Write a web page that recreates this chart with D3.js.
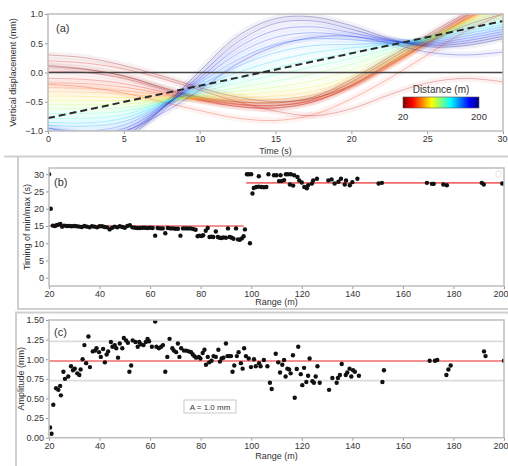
<!DOCTYPE html>
<html>
<head>
<meta charset="utf-8">
<script src="https://cdn.jsdelivr.net/npm/d3@7"></script>
<style>
  body { margin: 0; background: #fff; }
  text { font-family: "Liberation Sans", Arial, sans-serif; fill: #333; }
</style>
</head>
<body>
<svg id="fig" width="508" height="466"></svg>
<script>
// ---------- Panel (a): displacement time series, one trace per distance ----------
const timeSteps = [0, 2.5, 5, 7.5, 10, 12.5, 15, 17.5, 20, 22.5, 25, 27.5, 30];
const distances = [20, 22, 25, 30, 35, 40, 45, 50, 60, 70, 80, 90, 100, 110, 120, 130, 140, 150, 160, 170, 180, 185, 190, 200];
const displacement = [
  [ 0.12, 0.06,-0.06,-0.25,-0.42,-0.50,-0.52,-0.42,-0.12, 0.26, 0.64, 1.00, 1.28],
  [ 0.30, 0.25, 0.12,-0.06,-0.26,-0.42,-0.50,-0.44,-0.22, 0.14, 0.50, 0.80, 1.00],
  [ 0.10, 0.05,-0.06,-0.26,-0.44,-0.54,-0.57,-0.46,-0.16, 0.22, 0.60, 0.97, 1.26],
  [ 0.02, 0.00,-0.10,-0.28,-0.46,-0.58,-0.61,-0.50,-0.22, 0.16, 0.56, 0.95, 1.26],
  [ 0.20, 0.16, 0.06,-0.10,-0.30,-0.50,-0.66,-0.74,-0.62,-0.38,-0.18,-0.10,-0.16],
  [-0.10,-0.12,-0.19,-0.33,-0.48,-0.58,-0.60,-0.50,-0.24, 0.12, 0.52, 0.92, 1.24],
  [-0.20,-0.25,-0.35,-0.50,-0.65,-0.78,-0.82,-0.72,-0.45,-0.10, 0.30, 0.70, 1.00],
  [-0.18,-0.19,-0.25,-0.36,-0.47,-0.55,-0.56,-0.48,-0.25, 0.10, 0.50, 0.90, 1.22],
  [-0.26,-0.27,-0.31,-0.38,-0.46,-0.51,-0.51,-0.44,-0.22, 0.12, 0.50, 0.90, 1.20],
  [-0.33,-0.34,-0.37,-0.41,-0.45,-0.47,-0.46,-0.38,-0.18, 0.14, 0.50, 0.88, 1.18],
  [-0.40,-0.41,-0.43,-0.44,-0.44,-0.43,-0.40,-0.32,-0.12, 0.18, 0.52, 0.88, 1.14],
  [-0.48,-0.48,-0.48,-0.46,-0.42,-0.38,-0.33,-0.24,-0.06, 0.22, 0.54, 0.86, 1.10],
  [-0.55,-0.55,-0.54,-0.48,-0.40,-0.32,-0.25,-0.14, 0.04, 0.28, 0.56, 0.84, 1.04],
  [-0.62,-0.62,-0.60,-0.50,-0.38,-0.26,-0.15,-0.02, 0.14, 0.34, 0.58, 0.82, 0.98],
  [-0.70,-0.70,-0.66,-0.52,-0.34,-0.18,-0.04, 0.10, 0.24, 0.40, 0.58, 0.78, 0.92],
  [-0.78,-0.78,-0.72,-0.52,-0.30,-0.10, 0.08, 0.22, 0.34, 0.46, 0.58, 0.74, 0.86],
  [-0.85,-0.86,-0.78,-0.54,-0.26, 0.00, 0.20, 0.34, 0.42, 0.48, 0.56, 0.70, 0.82],
  [-0.90,-0.92,-0.84,-0.56,-0.22, 0.10, 0.34, 0.46, 0.48, 0.50, 0.54, 0.66, 0.78],
  [-0.95,-1.00,-0.90,-0.58,-0.18, 0.22, 0.48, 0.58, 0.56, 0.52, 0.52, 0.62, 0.74],
  [-1.00,-1.06,-0.96,-0.60,-0.14, 0.32, 0.60, 0.68, 0.62, 0.54, 0.50, 0.58, 0.70],
  [-1.05,-1.12,-1.02,-0.62,-0.10, 0.42, 0.72, 0.78, 0.68, 0.55, 0.48, 0.54, 0.66],
  [-0.95,-1.05,-1.00,-0.70,-0.30, 0.15, 0.45, 0.60, 0.62, 0.50, 0.35, 0.30, 0.35],
  [-1.10,-1.18,-1.08,-0.62,-0.05, 0.52, 0.84, 0.88, 0.74, 0.56, 0.46, 0.50, 0.62],
  [-1.15,-1.25,-1.15,-0.62, 0.02, 0.62, 0.92, 0.95, 0.80, 0.58, 0.44, 0.46, 0.58]
];
const trendEnds = [[0, -0.78], [30, 0.88]];
const timeTicks = [0, 5, 10, 15, 20, 25, 30];
const dispTicks = [-1.0, -0.5, 0.0, 0.5, 1.0];

// ---------- Panel (b): timing of min/max vs range ----------
const timingRange = [20, 20.7, 21.5, 22.3, 23, 23.8, 24.5, 25.2, 26, 27, 28, 29, 30, 31, 32, 33, 34, 35, 36, 37, 38, 39, 40, 41, 42, 43, 44, 45, 46, 47, 48, 49, 50, 51, 52, 53, 54, 55, 56, 57, 58, 59, 60, 61, 62, 63, 64, 65, 66, 67, 68, 69, 70, 71, 72, 73, 74, 75, 76, 77, 78, 78.8, 79.5, 80.3, 81, 82, 82.8, 83.5, 84.3, 85, 86, 86.8, 87.5, 88.3, 89, 90, 90.8, 91.5, 92.3, 93, 94, 94.8, 95.5, 96.3, 97, 97.5, 98.3, 99, 99.5, 100, 100.5, 101, 102, 103, 103, 104, 105, 106, 106.8, 109, 110, 111, 111.6, 112, 113, 113.7, 114.5, 115.3, 115.7, 116.6, 117, 118.3, 119, 120, 121, 122, 122.5, 124, 124.5, 126, 130.5, 131.8, 133, 134.5, 135.5, 137, 137.5, 139, 140, 142, 150.4, 151.7, 169.5, 171.5, 172.2, 176, 177.4, 191.2, 192, 199.3];
const timingValue = [30, 20, 15.1, 15.0, 15.2, 15.4, 15.6, 14.8, 15.1, 15.0, 15.0, 14.9, 15.0, 14.9, 14.8, 14.7, 15.0, 14.8, 14.6, 14.9, 14.8, 14.6, 14.9, 14.9, 14.7, 14.6, 14.0, 14.5, 14.8, 14.6, 14.9, 14.7, 14.5, 15.0, 15.2, 14.6, 14.5, 14.4, 14.4, 14.5, 14.5, 14.4, 14.5, 14.4, 12.2, 14.4, 14.3, 14.3, 12.9, 14.4, 14.3, 14.3, 14.2, 14.2, 12.2, 14.3, 14.3, 14.3, 14.3, 14.1, 13.9, 12.0, 12.2, 12.1, 12.3, 13.6, 14.4, 11.8, 11.9, 11.8, 13.4, 11.8, 11.6, 11.5, 11.7, 11.6, 14.3, 11.8, 11.6, 11.3, 14.3, 11.1, 11.0, 11.4, 12.0, 14.0, 30, 30, 10.0, 30, 24.4, 26.0, 26.3, 29.4, 26.4, 26.3, 26.2, 26.3, 30, 29.7, 29.7, 28.0, 29.7, 28.0, 28.3, 30, 30, 27.0, 30, 26.7, 29.7, 29.2, 28.2, 27.6, 26.3, 25.9, 26.8, 27.3, 28.2, 28.7, 28.2, 28.5, 27.3, 27.8, 28.7, 27.0, 28.2, 26.8, 27.7, 28.7, 27.3, 27.5, 27.5, 27.2, 27.2, 27.0, 26.8, 27.5, 27.0, 27.3];
const timingFits = [
  { from: 20, to: 97, level: 15.0 },
  { from: 98, to: 200, level: 27.5 }
];
const rangeTicks = [20, 40, 60, 80, 100, 120, 140, 160, 180, 200];
const timingTicks = [0, 5, 10, 15, 20, 25, 30];

// ---------- Panel (c): amplitude vs range ----------
const ampRange = [20.4, 21, 21.7, 22.8, 23.7, 24.4, 24.7, 25.7, 26.3, 27.6, 28.7, 29.5, 30.2, 31.2, 32, 32.5, 33.3, 34, 34.7, 35.6, 36.2, 37.3, 38.2, 38.8, 39.8, 40.5, 41.4, 42.1, 42.8, 43.4, 44.5, 45.1, 46, 46.6, 47.3, 48, 49, 49.6, 50.5, 51.2, 51.8, 52.5, 53.1, 54.2, 55.1, 55.7, 56.3, 57.4, 58.3, 59, 59.6, 60.7, 62, 62.5, 63.5, 64.4, 65.1, 66, 66.8, 67.7, 68.8, 69.4, 70.3, 71, 71.6, 72.3, 73.4, 74.3, 75.3, 76.2, 76.9, 77.5, 78.2, 79.3, 79.9, 80.8, 81.5, 82.1, 82.8, 83.4, 84.3, 85.1, 86, 87, 87.6, 88.3, 89, 90, 90.6, 91.3, 92, 92.6, 93.3, 94.3, 95, 95.9, 96.6, 97.2, 97.9, 99, 99.9, 101.1, 101.8, 103.1, 103.7, 105, 106.4, 107.4, 108.1, 109.7, 110.7, 111.4, 112.3, 113, 113.6, 114.3, 115, 115.6, 116.5, 117.2, 118, 118.6, 119.6, 120.2, 120.9, 121.8, 122.5, 123.1, 124.2, 124.8, 125.5, 126.2, 127.1, 130.8, 132.1, 133.8, 134.3, 135.1, 135.8, 137.4, 138, 138.9, 139.6, 140.3, 141, 142.6, 151.9, 152.5, 170.6, 172.7, 173.6, 177.2, 178, 178.9, 192.1, 192.7, 200];
const ampValue = [0.13, 0.05, 0.42, 0.63, 0.61, 0.66, 0.54, 0.84, 0.75, 0.78, 0.91, 0.86, 0.88, 0.82, 0.80, 0.87, 1.00, 1.18, 0.95, 1.29, 0.90, 1.10, 1.11, 1.14, 1.09, 1.03, 1.13, 0.96, 1.06, 1.10, 1.22, 1.16, 1.18, 1.14, 1.02, 1.20, 1.14, 1.27, 1.24, 1.21, 0.84, 0.92, 1.24, 1.22, 1.16, 1.22, 1.19, 1.18, 1.22, 1.26, 1.23, 1.16, 1.48, 1.16, 1.14, 1.16, 1.18, 0.84, 1.03, 1.26, 1.14, 1.11, 1.09, 1.20, 1.03, 1.14, 1.11, 1.11, 1.10, 1.09, 1.06, 1.04, 1.02, 1.03, 1.01, 1.08, 1.12, 0.93, 1.03, 0.96, 0.98, 1.04, 1.03, 1.12, 0.97, 1.01, 1.02, 1.20, 1.04, 1.04, 1.04, 0.84, 0.92, 1.04, 1.09, 0.95, 0.88, 1.14, 1.04, 1.01, 0.90, 1.00, 0.91, 0.95, 0.91, 0.99, 0.91, 0.70, 0.62, 1.07, 0.96, 0.83, 0.93, 0.99, 0.78, 0.88, 0.87, 0.82, 1.05, 0.51, 0.875, 1.16, 0.81, 0.67, 0.89, 0.71, 0.79, 1.01, 0.72, 0.70, 0.78, 0.91, 0.70, 0.61, 0.76, 0.70, 0.76, 0.80, 0.94, 0.80, 0.83, 0.88, 0.78, 0.86, 0.84, 0.79, 0.71, 0.86, 0.98, 0.98, 0.99, 0.80, 0.87, 0.92, 1.10, 1.04, 0.98];
const ampMean = 0.977;
const ampBand = [0.727, 1.227];
const ampTicks = [0, 0.25, 0.5, 0.75, 1.0, 1.25, 1.5];
const ampLegend = "A = 1.0 mm";

// ---------- shared styling ----------
const spineColor = "#bdbdbd";
const fitColor = "#f26b6b";
const jetStops = ["#7f0000", "#ff0000", "#ff7f00", "#ffff00", "#7fff7f", "#00ffff", "#007fff", "#0000ff", "#00007f"];
const jetR = d3.scaleSequential(d3.interpolateRgbBasis(jetStops)).domain([20, 200]);
const minus = s => s.replace("-", "\u2212");

const svg = d3.select("#fig");

// figure panel borders
const borders = svg.append("g").attr("fill", "none").attr("stroke", "#cfcfcf").attr("stroke-width", 2);
borders.append("path").attr("d", "M4,156.5H508");
borders.append("path").attr("d", "M18,157V309H508");
borders.append("path").attr("d", "M16,466V312.5H508");

function frame(g, x, y, clipId) {
  const [x0, x1] = x.range(), [y0, y1] = y.range();
  g.append("clipPath").attr("id", clipId)
    .append("rect").attr("x", x0).attr("y", y1).attr("width", x1 - x0).attr("height", y0 - y1);
}

function axes(g, x, y, xt, yt, xfmt, yfmt) {
  const [x0, x1] = x.range(), [y0, y1] = y.range();
  const ax = g.append("g").attr("transform", `translate(0,${y0})`)
    .call(d3.axisBottom(x).tickValues(xt).tickFormat(xfmt).tickSize(3).tickPadding(2));
  const ay = g.append("g").attr("transform", `translate(${x0},0)`)
    .call(d3.axisLeft(y).tickValues(yt).tickFormat(yfmt).tickSize(3).tickPadding(2));
  [ax, ay].forEach(a => {
    a.select(".domain").remove();
    a.selectAll(".tick line").attr("stroke", "#999");
    a.selectAll(".tick text").attr("font-size", 9).attr("fill", "#444")
      .style("font-family", '"Liberation Sans", Arial, sans-serif');
  });
  // keep the last tick label inside the figure edge
  ax.selectAll(".tick text").filter(d => x(d) > 500).attr("text-anchor", "end").attr("dx", 4);
  g.append("rect").attr("x", x0).attr("y", y1).attr("width", x1 - x0).attr("height", y0 - y1)
    .attr("fill", "none").attr("stroke", spineColor).attr("stroke-width", 1.5);
}

// ===== Panel (a) =====
{
  const x = d3.scaleLinear().domain([0, 30]).range([48, 503]);
  const y = d3.scaleLinear().domain([-1, 1]).range([131, 14]);
  const g = svg.append("g");
  frame(g, x, y, "clipA");
  const plot = g.append("g").attr("clip-path", "url(#clipA)");
  const line = d3.line().x((d, i) => x(timeSteps[i])).y(d => y(d)).curve(d3.curveCatmullRom.alpha(0.5));
  // soft halo behind each trace to give the dense bundle look
  plot.append("g").selectAll("path").data(displacement).join("path")
    .attr("d", line).attr("fill", "none")
    .attr("stroke", (d, i) => jetR(distances[i])).attr("stroke-width", 7).attr("stroke-opacity", 0.055);
  plot.append("g").selectAll("path").data(displacement).join("path")
    .attr("d", line).attr("fill", "none")
    .attr("stroke", (d, i) => jetR(distances[i])).attr("stroke-width", 1).attr("stroke-opacity", 0.28);
  plot.append("line").attr("x1", x(0)).attr("x2", x(30)).attr("y1", y(0)).attr("y2", y(0))
    .attr("stroke", "#444").attr("stroke-width", 1.6);
  plot.append("line")
    .attr("x1", x(trendEnds[0][0])).attr("y1", y(trendEnds[0][1]))
    .attr("x2", x(trendEnds[1][0])).attr("y2", y(trendEnds[1][1]))
    .attr("stroke", "#2a2a2a").attr("stroke-width", 2).attr("stroke-dasharray", "7,4");
  axes(g, x, y, timeTicks, dispTicks, d3.format("d"), v => minus(d3.format(".1f")(v)));
  g.append("text").attr("x", 56).attr("y", 32).attr("font-size", 11).text("(a)");
  g.append("text").attr("x", (48 + 503) / 2).attr("y", 154).attr("text-anchor", "middle").attr("font-size", 9).text("Time (s)");
  g.append("text").attr("transform", `translate(16,${(14 + 131) / 2}) rotate(-90)`)
    .attr("text-anchor", "middle").attr("font-size", 9).text("Vertical displacement (mm)");

  // colour bar
  const cb = d3.scaleLinear().domain([20, 200]).range([403, 479]);
  const grad = g.append("defs").append("linearGradient").attr("id", "jetGrad");
  jetStops.forEach((c, i) => grad.append("stop").attr("offset", i / (jetStops.length - 1)).attr("stop-color", c));
  g.append("rect").attr("x", cb(20)).attr("y", 97).attr("width", cb(200) - cb(20)).attr("height", 11)
    .attr("fill", "url(#jetGrad)").attr("stroke", "#555").attr("stroke-width", 0.6);
  g.append("text").attr("x", (cb(20) + cb(200)) / 2).attr("y", 93).attr("text-anchor", "middle")
    .attr("font-size", 10).text("Distance (m)");
  [20, 200].forEach(v => g.append("text").attr("x", cb(v)).attr("y", 120).attr("text-anchor", "middle")
    .attr("font-size", 9.5).text(v));
}

// ===== Panel (b) =====
{
  const x = d3.scaleLinear().domain([20, 200]).range([49, 504]);
  const y = d3.scaleLinear().domain([-2.4, 31.8]).range([286, 168]);
  const g = svg.append("g");
  frame(g, x, y, "clipB");
  const plot = g.append("g").attr("clip-path", "url(#clipB)");
  plot.selectAll("line.fit").data(timingFits).join("line").attr("class", "fit")
    .attr("x1", d => x(d.from)).attr("x2", d => x(d.to)).attr("y1", d => y(d.level)).attr("y2", d => y(d.level))
    .attr("stroke", fitColor).attr("stroke-width", 1.6);
  plot.selectAll("circle").data(timingRange).join("circle")
    .attr("cx", d => x(d)).attr("cy", (d, i) => y(timingValue[i])).attr("r", 2.2).attr("fill", "#111");
  axes(g, x, y, rangeTicks, timingTicks, d3.format("d"), d3.format("d"));
  g.append("rect").attr("x", 496).attr("y", 171).attr("width", 5).attr("height", 6).attr("rx", 1)
    .attr("fill", "#fff").attr("stroke", "#ddd").attr("stroke-width", 0.8);
  g.append("text").attr("x", 54).attr("y", 186).attr("font-size", 11).text("(b)");
  g.append("text").attr("x", (49 + 504) / 2).attr("y", 305).attr("text-anchor", "middle").attr("font-size", 9).text("Range (m)");
  g.append("text").attr("transform", `translate(30,${(168 + 286) / 2}) rotate(-90)`)
    .attr("text-anchor", "middle").attr("font-size", 9).text("Timing of min/max (s)");
}

// ===== Panel (c) =====
{
  const x = d3.scaleLinear().domain([20, 200]).range([49, 504]);
  const y = d3.scaleLinear().domain([0, 1.5]).range([437.7, 320]);
  const g = svg.append("g");
  frame(g, x, y, "clipC");
  const plot = g.append("g").attr("clip-path", "url(#clipC)");
  plot.selectAll("line.band").data(ampBand).join("line").attr("class", "band")
    .attr("x1", x(20)).attr("x2", x(200)).attr("y1", d => y(d)).attr("y2", d => y(d))
    .attr("stroke", "#dcdcdc").attr("stroke-width", 1.6);
  plot.append("line").attr("x1", x(20)).attr("x2", x(200)).attr("y1", y(ampMean)).attr("y2", y(ampMean))
    .attr("stroke", fitColor).attr("stroke-width", 1.6);
  plot.selectAll("circle").data(ampRange).join("circle")
    .attr("cx", d => x(d)).attr("cy", (d, i) => y(ampValue[i])).attr("r", 2.2).attr("fill", "#111");
  axes(g, x, y, rangeTicks, ampTicks, d3.format("d"), d3.format(".2f"));
  g.append("rect").attr("x", 184).attr("y", 400).attr("width", 52).attr("height", 13)
    .attr("fill", "#fff").attr("stroke", "#bbb").attr("stroke-width", 0.8);
  g.append("text").attr("x", 210).attr("y", 409.5).attr("text-anchor", "middle").attr("font-size", 8).text(ampLegend);
  g.append("text").attr("x", 54).attr("y", 336).attr("font-size", 11).text("(c)");
  g.append("text").attr("x", (49 + 504) / 2).attr("y", 459).attr("text-anchor", "middle").attr("font-size", 9).text("Range (m)");
  g.append("text").attr("transform", `translate(24,${(320 + 437.7) / 2}) rotate(-90)`)
    .attr("text-anchor", "middle").attr("font-size", 9).text("Amplitude (mm)");
}
</script>
</body>
</html>
